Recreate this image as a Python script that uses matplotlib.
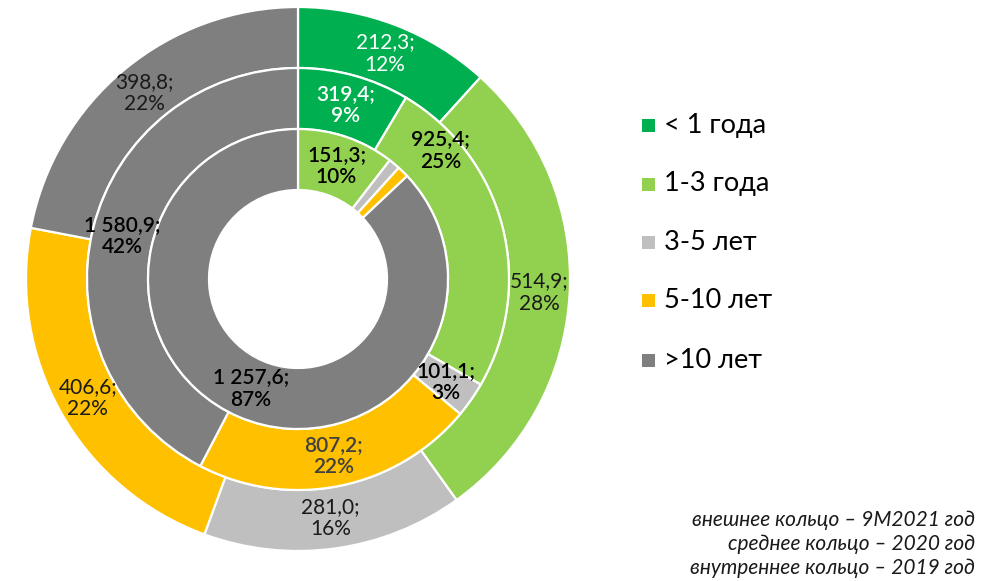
import matplotlib
matplotlib.use("Agg")
import matplotlib.pyplot as plt
from matplotlib.patches import Rectangle
import numpy as np

plt.rcParams['font.family'] = ['Lato', 'DejaVu Sans']

categories = ["< 1 года", "1-3 года", "3-5 лет", "5-10 лет", ">10 лет"]
colors = ["#00B050", "#92D050", "#BFBFBF", "#FFC000", "#7F7F7F"]

# Portfolio by term, outer = 9M2021, middle = 2020, inner = 2019
outer_values = [212.3, 514.9, 281.0, 406.6, 398.8]
outer_pct = ["12%", "28%", "16%", "22%", "22%"]
middle_values = [319.4, 925.4, 101.1, 807.2, 1580.9]
middle_pct = ["9%", "25%", "3%", "22%", "42%"]
inner_values = [0.0, 151.3, 18.0, 18.0, 1257.6]
inner_pct = ["", "10%", "", "", "87%"]

outer_text_colors = ["white", "#1a1a1a", "#1a1a1a", "#1a1a1a", "#1a1a1a"]
middle_text_colors = ["white", "black", "black", "#404040", "black"]
inner_text_colors = ["white", "black", "black", "black", "black"]

footnote = ["внешнее кольцо – 9M2021 год",
            "среднее кольцо – 2020 год",
            "внутреннее кольцо – 2019 год"]

W, H = 991, 581
fig = plt.figure(figsize=(W / 100, H / 100), dpi=100)
ax = fig.add_axes([0, 0, 1, 1])
ax.set_xlim(0, W)
ax.set_ylim(0, H)
ax.set_aspect('equal')
ax.axis('off')

cx, cy = 298, H - 279
ring_w = 61
r_outer, r_mid, r_inner = 272, 211, 150


def fmt(v):
    return f"{v:,.1f}".replace(",", " ").replace(".", ",")


def ring(values, radius, pcts, tcolors, weight, moved=None):
    moved = moved or {}
    ax.pie(values, radius=radius, center=(cx, cy), colors=colors,
           startangle=90, counterclock=False,
           wedgeprops=dict(width=ring_w, edgecolor='white', linewidth=1.6))
    total = sum(values)
    cum = 0.0
    for i, (v, p, tc) in enumerate(zip(values, pcts, tcolors)):
        mid = cum + v / 2
        cum += v
        if not p:
            continue
        ang = np.deg2rad(90 - 360 * mid / total)
        rr = radius - ring_w / 2
        if i in moved:
            ang, rr = np.deg2rad(moved[i][0]), moved[i][1]
        ax.text(cx + rr * np.cos(ang), cy + rr * np.sin(ang),
                f"{fmt(v)};\n{p}", ha='center', va='center',
                fontsize=15, color=tc, fontweight=weight, linespacing=1.15)


ring(outer_values, r_outer, outer_pct, outer_text_colors, 'normal')
ring(middle_values, r_mid, middle_pct, middle_text_colors, 'semibold',
     moved={1: (42, 192)})
ring(inner_values, r_inner, inner_pct, inner_text_colors, 'semibold')
ax.set_xlim(0, W)
ax.set_ylim(0, H)

# Legend
leg_y = [125, 184, 242, 300, 360]
for lab, col, y in zip(categories, colors, leg_y):
    ax.add_patch(Rectangle((642, H - y - 6.5), 13, 13, facecolor=col, edgecolor='none'))
    ax.text(664, H - y, lab, fontsize=19.5, va='center', ha='left', color='black')

# Ring explanation
for i, line in enumerate(footnote):
    ax.text(975, H - 520 - i * 24, line, fontsize=15, style='italic',
            ha='right', va='center', color='#1a1a1a')

fig.savefig("out.png", dpi=100)
